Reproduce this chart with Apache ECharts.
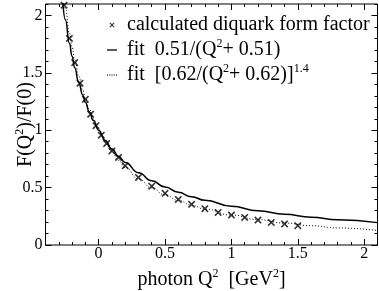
<!DOCTYPE html>
<html>
<head>
<meta charset="utf-8">
<script src="https://cdn.jsdelivr.net/npm/echarts@6/dist/echarts.min.js"></script>
<style>
html,body{margin:0;padding:0;background:#fff;}
#c{width:379px;height:291px;}
</style>
</head>
<body>
<div id="c"></div>
<script>
// calculated diquark form factor points
const qCalc = [-0.26, -0.22, -0.18, -0.14, -0.10, -0.06, -0.02, 0.02, 0.06, 0.10, 0.15, 0.20, 0.30, 0.40, 0.50, 0.60, 0.70, 0.80, 0.90, 1.00, 1.10, 1.20, 1.30, 1.40, 1.50];
const fCalc = [2.09, 1.80, 1.59, 1.41, 1.27, 1.14, 1.04, 0.957, 0.884, 0.82, 0.763, 0.69, 0.589, 0.513, 0.45, 0.397, 0.354, 0.316, 0.284, 0.261, 0.24, 0.217, 0.197, 0.183, 0.168];
// fit curves sampled
const qFit = [-0.27, -0.25, -0.22, -0.2, -0.18, -0.15, -0.12, -0.1, -0.07, -0.04, 0, 0.05, 0.1, 0.15, 0.2, 0.3, 0.4, 0.5, 0.6, 0.7, 0.8, 1.0, 1.2, 1.4, 1.6, 1.8, 2.1];
const fit1 = [2.125, 1.962, 1.759, 1.645, 1.545, 1.417, 1.308, 1.244, 1.159, 1.085, 1.0, 0.911, 0.836, 0.773, 0.718, 0.630, 0.560, 0.505, 0.459, 0.421, 0.389, 0.338, 0.298, 0.267, 0.242, 0.221, 0.195];
const fit2 = [2.227, 2.060, 1.847, 1.725, 1.616, 1.474, 1.351, 1.279, 1.183, 1.098, 1.0, 0.897, 0.811, 0.738, 0.676, 0.575, 0.498, 0.437, 0.388, 0.347, 0.313, 0.261, 0.221, 0.191, 0.168, 0.149, 0.126];
const xTicks = [0, 0.5, 1, 1.5, 2];
const yTicks = [0, 0.5, 1, 1.5, 2];
const legendNames = ['calculated diquark form factor', 'fit1', 'fit2'];

const FONT = 'Liberation Serif';
const rich = {
  t: {fontFamily: FONT, fontSize: 20, color: '#000', lineHeight: 24},
  s: {fontFamily: FONT, fontSize: 12, color: '#000', lineHeight: 16, verticalAlign: 'top'},
  g: {fontFamily: FONT, fontSize: 20, width: 5, lineHeight: 24}
};
const crossPath = 'path://M0,1.5 L1.5,0 L5,3.5 L8.5,0 L10,1.5 L6.5,5 L10,8.5 L8.5,10 L5,6.5 L1.5,10 L0,8.5 L3.5,5 Z';
const solidIcon = 'path://M0,0 L10,0 L10,1.3 L0,1.3 Z';
const dottedIcon = 'path://M0,0h1v1h-1z M2,0h1v1h-1z M4,0h1v1h-1z M6,0h1v1h-1z M8,0h1v1h-1z';

const zip = (a, b) => a.map((v, i) => [v, b[i]]);

const tickOpt = (len, custom) => {
  const o = {show: true, inside: true, length: len, lineStyle: {color: '#000', width: 1}};
  if (custom) o.customValues = custom;
  return o;
};
const baseX = (pos, len, custom, extra) => Object.assign({
  type: 'value', position: pos, min: -0.4, max: 2.1, interval: 0.1,
  axisLine: {show: false, onZero: false},
  axisTick: tickOpt(len, custom),
  axisLabel: {show: false},
  splitLine: {show: false}
}, extra || {});
const baseY = (pos, len, custom, extra) => Object.assign({
  type: 'value', position: pos, min: 0, max: 2.1, interval: 0.1,
  axisLine: {show: false, onZero: false},
  axisTick: tickOpt(len, custom),
  axisLabel: {show: false},
  splitLine: {show: false}
}, extra || {});

const chart = echarts.init(document.getElementById('c'), null, {renderer: 'canvas'});
chart.setOption({
  animation: false,
  backgroundColor: '#fff',
  grid: {left: 45.5, right: 1.5, top: 4, bottom: 46, containLabel: false, outerBoundsMode: 'none',
    show: true, borderColor: '#000', borderWidth: 1, backgroundColor: 'transparent'},
  xAxis: [
    baseX('bottom', 3, null, {
      axisLabel: {show: true, customValues: xTicks, fontFamily: FONT, fontSize: 16, color: '#000', margin: 1,
        formatter: v => String(v)},
      name: '{t|photon Q}{s|2}{t|  [GeV}{s|2}{t|]}', nameLocation: 'middle', nameGap: 23, nameMoveOverlap: false,
      nameTextStyle: {rich: rich}
    }),
    baseX('bottom', 6, xTicks),
    baseX('top', 3, null),
    baseX('top', 6, xTicks)
  ],
  yAxis: [
    baseY('left', 3, null, {
      axisLabel: {show: true, customValues: yTicks, fontFamily: FONT, fontSize: 16, color: '#000', margin: 3,
        formatter: v => String(v)},
      name: '{t|F(Q}{s|2}{t|)/F(0)}', nameLocation: 'middle', nameGap: 8, nameRotate: 90, nameMoveOverlap: false,
      nameTextStyle: {rich: rich}
    }),
    baseY('left', 6, yTicks),
    baseY('right', 3, null),
    baseY('right', 6, yTicks)
  ],
  legend: {
    orient: 'vertical', left: 102, top: 10, itemWidth: 10, itemHeight: 5, itemGap: 3,
    data: [
      {name: legendNames[0], icon: crossPath},
      {name: legendNames[1], icon: solidIcon},
      {name: legendNames[2], icon: dottedIcon}
    ],
    formatter: function (n) {
      if (n === legendNames[0]) return '{g| }{t|calculated diquark form factor}';
      if (n === legendNames[1]) return '{g| }{t|fit  0.51/(Q}{s|2}{t|+ 0.51)}';
      return '{g| }{t|fit  [0.62/(Q}{s|2}{t|+ 0.62)]}{s|1.4}';
    },
    textStyle: {rich: rich},
    selectedMode: false
  },
  series: [
    {
      name: legendNames[0], type: 'scatter', xAxisIndex: 0, yAxisIndex: 0,
      symbol: crossPath, symbolSize: 7.5,
      itemStyle: {color: '#000'},
      data: zip(qCalc, fCalc), z: 5
    },
    {
      name: legendNames[1], type: 'line', xAxisIndex: 0, yAxisIndex: 0,
      symbol: 'none', smooth: true, smoothMonotone: 'x', clip: true,
      lineStyle: {color: '#000', width: 1.5, type: 'solid'},
      itemStyle: {color: '#000'},
      data: zip(qFit, fit1)
    },
    {
      name: legendNames[2], type: 'line', xAxisIndex: 0, yAxisIndex: 0,
      symbol: 'none', smooth: true, smoothMonotone: 'x', clip: true,
      lineStyle: {color: '#000', width: 1, type: [1, 2]},
      itemStyle: {color: '#000'},
      data: zip(qFit, fit2)
    }
  ]
});
</script>
</body>
</html>
